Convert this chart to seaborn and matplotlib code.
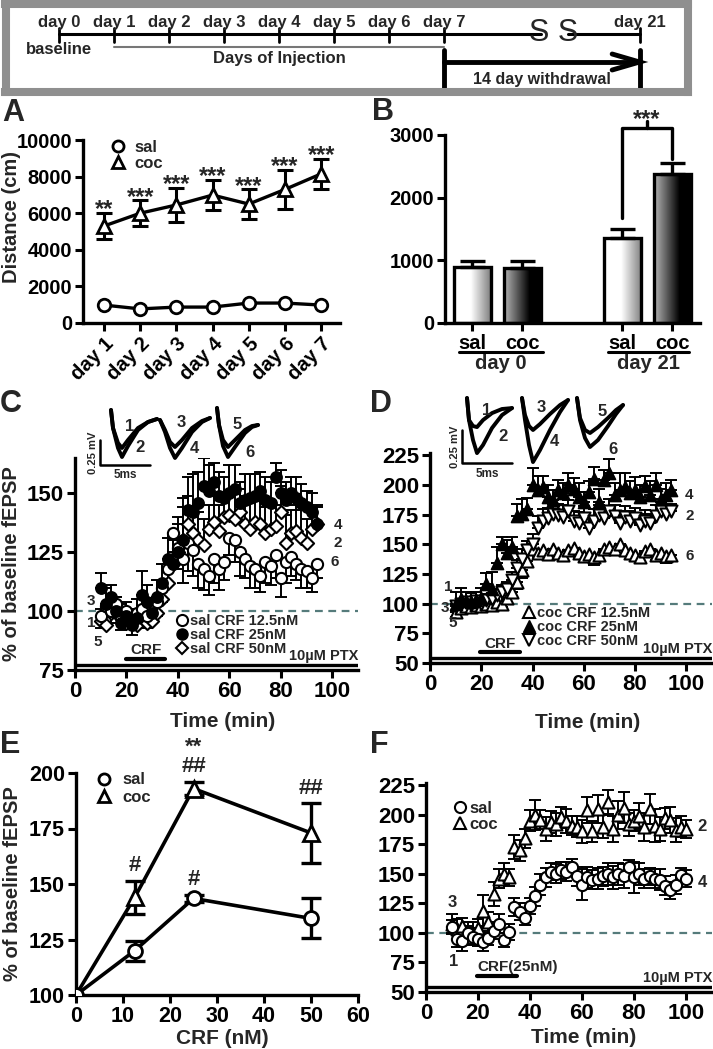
import matplotlib
matplotlib.use('Agg')
import matplotlib.pyplot as plt
import matplotlib.transforms as mtransforms
from matplotlib.lines import Line2D
import numpy as np
import pandas as pd
import seaborn as sns

sns.set_style('ticks')
plt.rcParams['font.family'] = ['Liberation Sans', 'DejaVu Sans']
plt.rcParams['font.weight'] = 'bold'
plt.rcParams['axes.labelweight'] = 'bold'

# ---------------- data ----------------
tl_days = ['day 0', 'day 1', 'day 2', 'day 3', 'day 4', 'day 5', 'day 6', 'day 7', 'day 21']
tl_pos = [0, 1, 2, 3, 4, 5, 6, 7, 10.56]

# A: locomotor distance
a_days = ['day 1', 'day 2', 'day 3', 'day 4', 'day 5', 'day 6', 'day 7']
a_sal = [980, 770, 870, 870, 1090, 1090, 980]
a_sal_err = [60, 50, 50, 50, 60, 60, 60]
a_coc = [5300, 6000, 6450, 6990, 6500, 7300, 8150]
a_coc_err = [700, 700, 950, 820, 800, 1050, 820]
a_stars = ['**', '***', '***', '***', '***', '***', '***']

# B: distance at day 0 / day 21
b_groups = ['sal', 'coc', 'sal', 'coc']
b_pos = [0, 1, 3, 4]
b_vals = [895, 880, 1360, 2380]
b_err = [95, 110, 140, 175]

# C / D: time course, saline / cocaine, three CRF doses
t43 = [10, 12, 14, 16, 18, 20, 22, 24, 26, 28, 30, 32, 34, 36, 38, 40, 42, 44, 46, 48, 50,
       52, 54, 56, 58, 60, 62, 64, 66, 68, 70, 72, 74, 76, 78, 80, 82, 84, 86, 88, 90, 92, 94]
c_sal125 = [98, 102, 100, 103, 97, 100, 96, 99, 101, 98, 102, 104, 110, 118, 133, 127, 122, 129, 126, 120,
            118, 115, 122, 118, 121, 131, 130, 125, 122, 119, 118, 115, 121, 119, 124, 114, 121, 123, 120, 118,
            117, 114, 120]
c_sal125_err = [5, 4, 5, 6, 5, 4, 6, 5, 6, 5, 4, 6, 6, 7, 8, 9, 10, 12, 11, 10,
                9, 8, 10, 9, 8, 7, 9, 10, 8, 9, 8, 7, 9, 8, 10, 8, 9, 8, 7, 8, 7, 6, 6]
c_sal25 = [110, 103, 106, 100, 95, 98, 94, 97, 107, 104, 99, 106, 112, 122, 120, 125, 130, 143, 142, 146,
           153, 151, 155, 149, 148, 150, 152, 146, 147, 148, 149, 151, 147, 146, 157, 150, 147, 150, 148, 146,
           144, 142, 137]
c_sal25_err = [6, 7, 5, 6, 5, 6, 7, 8, 10, 7, 6, 7, 8, 9, 12, 15, 18, 14, 16, 13,
               12, 11, 8, 10, 9, 12, 10, 9, 11, 10, 9, 8, 10, 9, 6, 10, 8, 7, 9, 8, 7, 8, 7]
c_sal50 = [96, 94, 99, 101, 97, 95, 96, 94, 97, 95, 96, 99, 105, 112, 120, 125, 130, 137, 133, 130,
           128, 135, 138, 134, 140, 141, 139, 142, 137, 135, 138, 137, 133, 135, 136, 142, 129, 133, 134, 131,
           129, 135, 137]
c_sal50_err = [5, 5, 4, 5, 6, 5, 4, 5, 5, 6, 5, 6, 7, 8, 10, 12, 14, 12, 11, 12,
               11, 10, 12, 11, 10, 9, 11, 10, 12, 11, 10, 12, 11, 10, 9, 11, 12, 10, 11, 12, 10, 9, 8]

d_coc125 = [93, 96, 98, 97, 99, 98, 100, 99, 101, 100, 105, 110, 118, 128, 136, 146, 143, 145, 142, 146,
            143, 141, 145, 147, 143, 140, 142, 139, 141, 146, 148, 146, 150, 145, 143, 141, 139, 144, 146, 141,
            143, 140, 141]
d_coc125_err = [4, 3, 4, 3, 4, 3, 4, 3, 4, 3, 4, 5, 6, 6, 5, 5, 4, 5, 4, 5,
                4, 5, 4, 5, 4, 5, 4, 6, 5, 4, 5, 4, 5, 4, 5, 4, 5, 4, 5, 4, 5, 6, 5]
d_coc25 = [100, 104, 102, 101, 103, 105, 117, 112, 134, 150, 143, 148, 174, 176, 180, 200, 196, 198, 190, 187,
           196, 193, 200, 197, 190, 186, 194, 205, 186, 204, 210, 192, 196, 198, 193, 196, 190, 199, 192, 200,
           188, 192, 196]
d_coc25_err = [10, 9, 8, 8, 7, 8, 9, 15, 14, 6, 11, 8, 10, 12, 9, 14, 12, 10, 10, 9,
               8, 9, 10, 9, 12, 8, 9, 10, 11, 9, 12, 10, 14, 12, 10, 11, 10, 9, 11, 10, 9, 10, 8]
d_coc50 = [98, 100, 101, 99, 102, 100, 103, 104, 107, 110, 112, 120, 130, 138, 145, 150, 164, 170, 172, 176,
           175, 173, 178, 170, 168, 172, 164, 170, 175, 172, 178, 174, 168, 173, 170, 172, 166, 170, 168, 174,
           178, 176, 178]
d_coc50_err = [4, 4, 3, 4, 4, 4, 5, 5, 5, 6, 6, 7, 7, 8, 8, 9, 10, 10, 9, 8,
               9, 10, 9, 8, 9, 10, 9, 10, 8, 9, 10, 9, 10, 9, 8, 9, 10, 9, 8, 9, 8, 7, 6]

# E: dose response
e_dose = [0, 12.5, 25, 50]
e_sal = [100, 120, 143.5, 134.5]
e_sal_err = [0, 4.5, 1.5, 9]
e_coc = [100, 144, 193, 173]
e_coc_err = [0, 7.5, 3, 13.5]
e_sal_marks = ['', '', '#', '']
e_coc_marks = ['', '#', '**\n##', '##']

# F: 25 nM CRF, sal vs coc
t46 = [10, 12, 14, 16, 18, 20, 22, 24, 26, 28, 30, 32, 34, 36, 38, 40, 42, 44, 46, 48, 50, 52, 54,
       56, 58, 60, 62, 64, 66, 68, 70, 72, 74, 76, 78, 80, 82, 84, 86, 88, 90, 92, 94, 96, 98, 100]
f_sal = [105, 95, 93, 100, 97, 95, 92, 96, 102, 108, 94, 101, 122, 118, 113, 123, 131, 141, 147, 152,
         150, 153, 152, 156, 148, 141, 147, 145, 146, 148, 150, 147, 150, 148, 156, 147, 150, 146, 148, 146,
         145, 140, 136, 141, 149, 146]
f_sal_err = [6, 7, 8, 6, 7, 6, 7, 6, 7, 8, 6, 7, 8, 7, 6, 7, 8, 9, 8, 7,
             8, 7, 8, 7, 8, 13, 9, 8, 9, 8, 9, 10, 9, 10, 6, 13, 9, 8, 7, 8, 9, 8, 7, 8, 6, 7]
f_coc = [108, 103, 106, 101, 100, 104, 119, 109, 133, 146, 150, 147, 173, 170, 180, 195, 200, 196, 188, 194,
         192, 198, 195, 191, 190, 186, 204, 186, 205, 190, 211, 188, 200, 206, 192, 195, 199, 190, 205, 191,
         188, 197, 196, 187, 190, 188]
f_coc_err = [8, 9, 7, 8, 9, 8, 13, 9, 10, 8, 9, 7, 10, 9, 8, 9, 13, 8, 10, 9,
             10, 9, 10, 8, 9, 10, 11, 9, 12, 10, 10, 11, 12, 13, 10, 9, 11, 12, 13, 14, 10, 9, 11, 10, 9, 8]

# sample fEPSP traces (ms, mV) for insets of C and D
c_tr_t = [[1.6, 1.8, 2.3, 2.7, 3.3, 4.3, 5.3, 6.2],
          [6.5, 7.0, 7.5, 8.0, 8.7, 9.7, 10.7, 11.5],
          [12.2, 12.4, 12.8, 13.3, 14.0, 15.0, 15.7, 16.3]]
c_tr_v = [[0.10, -0.08, -0.23, -0.28, -0.20, -0.08, -0.02, 0.01],
          [0.10, -0.08, -0.28, -0.37, -0.26, -0.10, -0.02, 0.01],
          [0.0, -0.10, -0.22, -0.27, -0.20, -0.08, -0.01, 0.02],
          [0.0, -0.12, -0.28, -0.38, -0.28, -0.12, -0.02, 0.02],
          [0.12, -0.05, -0.20, -0.27, -0.20, -0.10, -0.06, -0.05],
          [0.12, -0.05, -0.26, -0.37, -0.27, -0.13, -0.07, -0.05]]
d_tr_t = [[1.2, 1.4, 1.8, 2.2, 2.8, 3.7, 4.7, 5.7],
          [6.7, 7.0, 7.4, 7.8, 8.5, 9.5, 10.5, 11.3],
          [12.2, 12.5, 13.0, 13.5, 14.3, 15.3, 16.1, 16.8]]
d_tr_v = [[0.053, -0.114, -0.159, -0.167, -0.114, -0.061, -0.030, -0.023],
          [0.053, -0.114, -0.265, -0.364, -0.303, -0.174, -0.076, -0.023],
          [0.053, -0.076, -0.159, -0.189, -0.144, -0.068, 0.0, 0.038],
          [0.053, -0.114, -0.303, -0.432, -0.341, -0.189, -0.053, 0.038],
          [0.053, -0.098, -0.189, -0.212, -0.167, -0.098, -0.038, 0.0],
          [0.053, -0.114, -0.250, -0.318, -0.265, -0.159, -0.068, 0.0]]

# ---------------- figure ----------------
W, H = 713, 1049
fig = plt.figure(figsize=(W / 100, H / 100), dpi=100)


def box(l, t, r, b):
    return fig.add_axes([l / W, 1 - b / H, (r - l) / W, (b - t) / H])


def style(ax, fs):
    sns.despine(ax=ax)
    for s in ['left', 'bottom']:
        ax.spines[s].set_linewidth(2.4)
        ax.spines[s].set_color('k')
    ax.tick_params(direction='out', length=6, width=2.2, labelsize=fs, colors='k', pad=2)


def letter(x, y, s):
    fig.text(x / W, 1 - y / H, s, fontsize=22, fontweight='bold', ha='left', va='center')


EK = dict(fmt='none', ecolor='k', elinewidth=1.4, capsize=4, capthick=1.4, zorder=2)
DASH = dict(ls=(0, (3.5, 2.5)), color='#557b7b', lw=1.6, zorder=1)

# ---- timeline ----
ax0 = box(5.5, 4, 688, 91.5)
ax0.set_xlim(-0.98, 11.44)
ax0.set_ylim(91.5, 4)
ax0.set_xticks([])
ax0.set_yticks([])
for s in ax0.spines.values():
    s.set_visible(True)
    s.set_linewidth(5.8)
    s.set_color('#8f8f8f')
ax0.plot([tl_pos[0], 8.76], [34, 34], color='k', lw=2.2)
ax0.plot([9.25, tl_pos[-1]], [34, 34], color='k', lw=2.2)
ax0.text(9.0, 33, 'S S', fontsize=22, fontweight='normal', ha='center', va='center')
for p, lab in zip(tl_pos, tl_days):
    ax0.plot([p, p], [28, 42], color='k', lw=2)
    ax0.text(p, 22, lab, fontsize=12, ha='center', va='center')
ax0.text(tl_pos[0], 50, 'baseline', fontsize=12, ha='center', va='center')
ax0.plot([tl_pos[1], tl_pos[7]], [47, 47], color='#777777', lw=1.5)
ax0.text(4.0, 59, 'Days of Injection', fontsize=12, ha='center', va='center')
ax0.plot([tl_pos[7], tl_pos[7]], [50, 88], color='k', lw=3.5)
ax0.plot([tl_pos[-1], tl_pos[-1]], [50, 88], color='k', lw=3.5)
ax0.plot([tl_pos[7], tl_pos[-1]], [62, 62], color='k', lw=3.5)
ax0.plot([tl_pos[-1] - 0.5, tl_pos[-1], tl_pos[-1] - 0.5], [54, 62, 70], color='k', lw=3.5,
         solid_joinstyle='miter')
ax0.text((tl_pos[7] + tl_pos[-1]) / 2, 79.5, '14 day withdrawal', fontsize=11.5, ha='center', va='center')

# ---- A ----
axA = box(83, 140, 340, 323)
xa = list(range(len(a_days)))
sns.lineplot(x=xa, y=a_coc, ax=axA, color='k', lw=2.4, marker='^', markersize=10,
             markerfacecolor='white', markeredgecolor='k', markeredgewidth=2, zorder=3)
sns.lineplot(x=xa, y=a_sal, ax=axA, color='k', lw=2.4, marker='o', markersize=9,
             markerfacecolor='white', markeredgecolor='k', markeredgewidth=2, zorder=3)
axA.errorbar(xa, a_coc, yerr=a_coc_err, fmt='none', ecolor='k', elinewidth=2.2, capsize=6,
             capthick=2.2, zorder=2)
for x, v, e, s in zip(xa, a_coc, a_coc_err, a_stars):
    axA.text(x, v + e - 450, s, fontsize=17, ha='center', va='bottom')
axA.set_xlim(-0.58, 6.52)
axA.set_ylim(0, 10000)
axA.set_yticks([0, 2000, 4000, 6000, 8000, 10000])
axA.set_xticks(xa)
style(axA, 14.5)
axA.set_xticklabels(a_days, rotation=45, ha='right', va='top', rotation_mode='anchor', fontsize=14.5)
axA.set_ylabel('Distance (cm)', fontsize=14.5)
axA.yaxis.set_label_coords(-0.24, 0.58)
axA.legend(handles=[Line2D([], [], marker='o', ls='none', mfc='white', mec='k', mew=2, ms=8),
                    Line2D([], [], marker='^', ls='none', mfc='white', mec='k', mew=2, ms=9)],
           labels=['sal', 'coc'], loc='upper left', bbox_to_anchor=(0.07, 1.045), frameon=False,
           handlelength=1.0, handletextpad=0.5, labelspacing=0.05, borderpad=0, fontsize=12)
letter(2, 113, 'A')

# ---- B ----
axB = box(445, 135, 700, 323)
dfB = pd.DataFrame({'pos': b_pos, 'val': b_vals, 'grp': b_groups})
sns.barplot(data=dfB, x='pos', y='val', native_scale=True, width=0.74, color='white',
            edgecolor='k', linewidth=2.4, errorbar=None, ax=axB)
ramp_sal = np.concatenate([np.ones(45), np.linspace(1.0, 0.5, 55)])[None, :]
ramp_coc = np.concatenate([np.linspace(0.72, 0.0, 70), np.zeros(30)])[None, :]
for p, g in zip(axB.patches, b_groups):
    p.set_facecolor('none')
    p.set_zorder(3)
    x0, w, h = p.get_x(), p.get_width(), p.get_height()
    axB.imshow(ramp_sal if g == 'sal' else ramp_coc, extent=[x0, x0 + w, 0, h], aspect='auto',
               cmap='gray', vmin=0, vmax=1, zorder=2, interpolation='bilinear')
axB.errorbar(b_pos, b_vals, yerr=[[0] * 4, b_err], fmt='none', ecolor='k', elinewidth=2.4,
             capsize=9, capthick=2.4, zorder=4)
axB.plot([3, 3, 4, 4], [1680, 3110, 3110, 2620], color='k', lw=2.4, clip_on=False)
axB.plot([3.5, 3.5], [3110, 3220], color='k', lw=2.4, clip_on=False)
axB.text(3.5, 3060, '***', fontsize=17, ha='center', va='bottom')
axB.set_xlim(-0.54, 4.56)
axB.set_ylim(0, 3000)
axB.set_yticks([0, 1000, 2000, 3000])
axB.set_xticks(b_pos)
style(axB, 14.5)
axB.set_xticklabels(b_groups, fontsize=14.5)
axB.set_xlabel('')
axB.set_ylabel('')
tB = mtransforms.blended_transform_factory(axB.transData, axB.transAxes)
for (x0, x1), lab in zip([(-0.26, 1.42), (2.72, 4.34)], ['day 0', 'day 21']):
    axB.plot([x0, x1], [-0.152, -0.152], color='k', lw=2.2, transform=tB, clip_on=False)
    axB.text((x0 + x1) / 2, -0.215, lab, fontsize=14.5, ha='center', va='center', transform=tB)
letter(372, 112, 'B')


def time_axes(ax, ylo, yhi, yticks, ptx_y, fs):
    ax.axhline(100, **DASH)
    ax.axhline(ptx_y, color='k', lw=2.4, zorder=1)
    ax.set_xlim(0, 110)
    ax.set_ylim(ylo, yhi)
    ax.set_xticks([0, 20, 40, 60, 80, 100])
    ax.set_yticks(yticks)
    style(ax, fs)
    ax.set_xlabel('Time (min)', fontsize=15)
    ax.text(1.0, (ptx_y - ylo) / (yhi - ylo) + 0.01, '10\u00b5M PTX', transform=ax.transAxes,
            fontsize=10.5, ha='right', va='bottom')


def inset(l, t, r, b, tt, vv, xl, yl, bar, labpos):
    ai = box(l, t, r, b)
    ai.set_xlim(*xl)
    ai.set_ylim(*yl)
    ai.axis('off')
    for i, v in enumerate(vv):
        sns.lineplot(x=tt[i // 2], y=v, ax=ai, color='k', lw=2.8, sort=False)
    bx, by0, by1, bx1 = bar
    ai.plot([bx, bx, bx1], [by0, by1, by1], color='k', lw=1.8, clip_on=False)
    ai.text(bx - 0.7, (by0 + by1) / 2, '0.25 mV', rotation=90, fontsize=8, ha='center', va='center')
    ai.text((bx + bx1) / 2, by1 - 0.04, '5ms', fontsize=8.5, ha='center', va='top')
    for k, (x, y) in enumerate(labpos):
        ai.text(x, y, str(k + 1), fontsize=12, ha='left', va='center')
    return ai


# ---- C ----
axC = box(75, 458, 358, 670)
time_axes(axC, 75, 165, [75, 100, 125, 150], 77.2, 16)
axC.errorbar(t43, c_sal125, yerr=[c_sal125_err, [0] * 43], **EK)
axC.errorbar(t43, c_sal25, yerr=[[0] * 43, c_sal25_err], **EK)
axC.errorbar(t43, c_sal50, yerr=[[0] * 43, c_sal50_err], **EK)
sns.scatterplot(x=t43, y=c_sal50, ax=axC, marker='D', s=45, color='white', edgecolor='k', linewidth=1.5, zorder=3)
sns.scatterplot(x=t43, y=c_sal125, ax=axC, marker='o', s=65, color='white', edgecolor='k', linewidth=1.5, zorder=3)
sns.scatterplot(x=t43, y=c_sal25, ax=axC, marker='o', s=65, color='k', edgecolor='k', linewidth=1.2, zorder=3)
axC.set_ylabel('% of baseline fEPSP', fontsize=14.5)
axC.yaxis.set_label_coords(-0.19, 0.5)
axC.xaxis.set_label_coords(0.52, -0.2)
axC.plot([20, 35], [79.5, 79.5], color='k', lw=3)
axC.text(27.5, 80.5, 'CRF', fontsize=11, ha='center', va='bottom')
for x, y, s in [(4.5, 104.5, '3'), (4.5, 95, '1'), (7.0, 87, '5'),
                (100.5, 136.5, '4'), (100.5, 129, '2'), (99.5, 121, '6')]:
    axC.text(x, y, s, fontsize=11, ha='left', va='center')
axC.legend(handles=[Line2D([], [], marker='o', ls='none', mfc='white', mec='k', mew=1.5, ms=8),
                    Line2D([], [], marker='o', ls='none', mfc='k', mec='k', ms=8),
                    Line2D([], [], marker='D', ls='none', mfc='white', mec='k', mew=1.5, ms=6.5)],
           labels=['sal CRF 12.5nM', 'sal CRF 25nM', 'sal CRF 50nM'], loc='upper left',
           bbox_to_anchor=(0.33, 0.3), frameon=False, handlelength=0.8, handletextpad=0.2,
           labelspacing=0.0, borderpad=0, fontsize=10.5)
inset(95, 400, 265, 480, c_tr_t, c_tr_v, (0, 17), (-0.6, 0.2), (0.5, -0.2, -0.45, 5.5),
      [(3.0, -0.07), (4.0, -0.28), (8.2, -0.03), (9.5, -0.29), (13.8, -0.05), (15.0, -0.33)])
letter(0, 404, 'C')

# ---- D ----
axD = box(430, 453, 712, 663)
time_axes(axD, 50, 227, [50, 75, 100, 125, 150, 175, 200, 225], 54.5, 16)
axD.errorbar(t43, d_coc125, yerr=[d_coc125_err, [0] * 43], **EK)
axD.errorbar(t43, d_coc25, yerr=[[0] * 43, d_coc25_err], **EK)
axD.errorbar(t43, d_coc50, yerr=[[0] * 43, d_coc50_err], **EK)
sns.scatterplot(x=t43, y=d_coc125, ax=axD, marker='^', s=75, color='white', edgecolor='k', linewidth=1.5, zorder=3)
sns.scatterplot(x=t43, y=d_coc50, ax=axD, marker='v', s=75, color='white', edgecolor='k', linewidth=1.5, zorder=3)
sns.scatterplot(x=t43, y=d_coc25, ax=axD, marker='^', s=75, color='k', edgecolor='k', linewidth=1.2, zorder=3)
axD.xaxis.set_label_coords(0.56, -0.24)
axD.plot([19.5, 35], [59.5, 59.5], color='k', lw=3)
axD.text(27.3, 60.5, 'CRF', fontsize=11, ha='center', va='bottom')
for x, y, s in [(5.5, 114, '1'), (4.0, 96.5, '3'), (7.3, 84, '5'),
                (99.5, 191.5, '4'), (99.5, 173.5, '2'), (99.5, 140.5, '6')]:
    axD.text(x, y, s, fontsize=11, ha='left', va='center')
axD.legend(handles=[Line2D([], [], marker='^', ls='none', mfc='white', mec='k', mew=1.5, ms=9),
                    Line2D([], [], marker='^', ls='none', mfc='k', mec='k', ms=8),
                    Line2D([], [], marker='v', ls='none', mfc='white', mec='k', mew=1.5, ms=9)],
           labels=['coc CRF 12.5nM', 'coc CRF 25nM', 'coc CRF 50nM'], loc='upper left',
           bbox_to_anchor=(0.305, 0.305), frameon=False, handlelength=0.8, handletextpad=0.15,
           labelspacing=0.0, borderpad=0, fontsize=10.5)
inset(455, 390, 630, 480, d_tr_t, d_tr_v, (0, 17.5), (-0.568, 0.114), (0.7, -0.19, -0.44, 5.7),
      [(2.7, -0.04), (4.3, -0.24), (8.2, -0.02), (9.5, -0.28), (14.3, -0.05), (15.3, -0.34)])
letter(370, 404, 'D')

# ---- E ----
axE = box(76, 773, 358, 995)
sns.lineplot(x=e_dose, y=e_coc, ax=axE, color='k', lw=2.6, marker='^', markersize=11,
             markerfacecolor='white', markeredgecolor='k', markeredgewidth=2, zorder=3)
sns.lineplot(x=e_dose, y=e_sal, ax=axE, color='k', lw=2.6, marker='o', markersize=10,
             markerfacecolor='white', markeredgecolor='k', markeredgewidth=2, zorder=3)
axE.errorbar(e_dose[1:], e_coc[1:], yerr=e_coc_err[1:], fmt='none', ecolor='k', elinewidth=2.4,
             capsize=7, capthick=2.4, zorder=2)
axE.errorbar(e_dose[1:], e_sal[1:], yerr=e_sal_err[1:], fmt='none', ecolor='k', elinewidth=2.4,
             capsize=7, capthick=2.4, zorder=2)
for x, v, e, s in zip(e_dose, e_coc, e_coc_err, e_coc_marks):
    if s:
        axE.text(x, v + e + 2, s, fontsize=16, ha='center', va='bottom', linespacing=0.9, clip_on=False)
for x, v, e, s in zip(e_dose, e_sal, e_sal_err, e_sal_marks):
    if s:
        axE.text(x, v + e + 2.5, s, fontsize=16, ha='center', va='bottom')
axE.set_xlim(0, 60)
axE.set_ylim(100, 200)
axE.set_xticks([0, 10, 20, 30, 40, 50, 60])
axE.set_yticks([100, 125, 150, 175, 200])
style(axE, 15.5)
axE.set_xlabel('CRF (nM)', fontsize=15)
axE.set_ylabel('% of baseline fEPSP', fontsize=14.5)
axE.yaxis.set_label_coords(-0.19, 0.5)
axE.xaxis.set_label_coords(0.52, -0.155)
axE.legend(handles=[Line2D([], [], marker='o', ls='none', mfc='white', mec='k', mew=2, ms=8),
                    Line2D([], [], marker='^', ls='none', mfc='white', mec='k', mew=2, ms=9)],
           labels=['sal', 'coc'], loc='upper left', bbox_to_anchor=(0.04, 1.04), frameon=False,
           handlelength=1.0, handletextpad=0.6, labelspacing=0.15, borderpad=0, fontsize=12)
letter(0, 745, 'E')

# ---- F ----
axF = box(426, 783, 712, 992)
time_axes(axF, 50, 227, [50, 75, 100, 125, 150, 175, 200, 225], 54.5, 16)
axF.errorbar(t46, f_coc, yerr=f_coc_err, **EK)
axF.errorbar(t46, f_sal, yerr=f_sal_err, **EK)
sns.scatterplot(x=t46, y=f_coc, ax=axF, marker='^', s=75, color='white', edgecolor='k', linewidth=1.5, zorder=3)
sns.scatterplot(x=t46, y=f_sal, ax=axF, marker='o', s=65, color='white', edgecolor='k', linewidth=1.5, zorder=3)
axF.xaxis.set_label_coords(0.55, -0.17)
axF.plot([19.7, 35], [63.5, 63.5], color='k', lw=3)
axF.text(19.7, 65, 'CRF(25nM)', fontsize=11, ha='left', va='bottom')
for x, y, s in [(8.5, 126, '3'), (9.0, 75.5, '1'), (104.5, 190, '2'), (104.5, 143, '4')]:
    axF.text(x, y, s, fontsize=12, ha='left', va='center')
axF.legend(handles=[Line2D([], [], marker='o', ls='none', mfc='white', mec='k', mew=1.5, ms=8),
                    Line2D([], [], marker='^', ls='none', mfc='white', mec='k', mew=1.5, ms=9)],
           labels=['sal', 'coc'], loc='upper left', bbox_to_anchor=(0.07, 0.955), frameon=False,
           handlelength=0.7, handletextpad=0.2, labelspacing=0.05, borderpad=0, fontsize=12)
letter(370, 745, 'F')

fig.savefig('out.png', dpi=100)
